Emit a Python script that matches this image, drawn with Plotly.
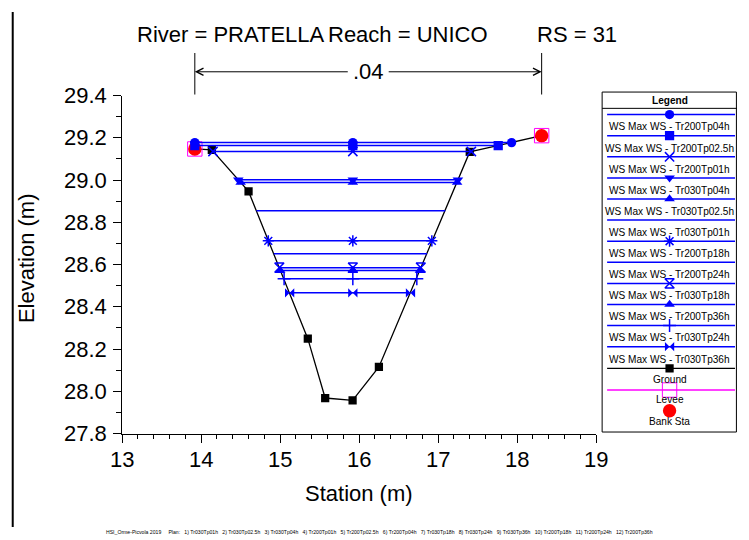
import plotly.graph_objects as go

# ---------------- data ----------------
ws_names = ["WS Max WS - Tr200Tp04h", "WS Max WS - Tr200Tp02.5h", "WS Max WS - Tr200Tp01h",
            "WS Max WS - Tr030Tp04h", "WS Max WS - Tr030Tp02.5h", "WS Max WS - Tr030Tp01h",
            "WS Max WS - Tr200Tp18h", "WS Max WS - Tr200Tp24h", "WS Max WS - Tr030Tp18h",
            "WS Max WS - Tr200Tp36h", "WS Max WS - Tr030Tp24h", "WS Max WS - Tr030Tp36h"]
ws_elev = [29.177, 29.163, 29.135, 29.001, 28.988, 28.854, 28.712, 28.651, 28.585, 28.572, 28.533, 28.466]
ws_left = [13.92, 13.92, 14.15, 14.47, 14.50, 14.70, 14.85, 14.92, 14.99, 15.00, 15.05, 15.12]
ws_mid = [15.92] * 12
ws_right = [17.93, 17.76, 17.42, 17.25, 17.24, 17.09, 16.92, 16.86, 16.78, 16.77, 16.73, 16.65]
ws_symbols = ["circle", "square", "x-thin-open", "triangle-down", "triangle-up", None,
              "asterisk-open", None, "hourglass-open", "triangle-up", "cross-thin-open", "bowtie"]

ground_x = [13.92, 14.135, 14.60, 15.35, 15.57, 15.917, 16.25, 17.40, 18.31]
ground_y = [29.147, 29.143, 28.946, 28.249, 27.968, 27.957, 28.115, 29.133, 29.21]

levee_x = [13.92, 18.31]
levee_y = [29.147, 29.21]
bank_x = [13.92, 18.31]
bank_y = [29.147, 29.21]

x_ticks = [13, 14, 15, 16, 17, 18, 19]
y_ticks = [27.8, 28.0, 28.2, 28.4, 28.6, 28.8, 29.0, 29.2, 29.4]

n_value = ".04"
title_parts = ["River = PRATELLA", "Reach = UNICO", "RS = 31"]
footer = ("HSI_Orme-Picvola 2019     Plan:   1) Tr030Tp01h   2) Tr030Tp02.5h   3) Tr030Tp04h   "
          "4) Tr200Tp01h   5) Tr200Tp02.5h   6) Tr200Tp04h   7) Tr030Tp18h   8) Tr030Tp24h   "
          "9) Tr030Tp36h   10) Tr200Tp18h   11) Tr200Tp24h   12) Tr200Tp36h")

# ---------------- layout helpers ----------------
W, H = 749, 540
# the photographed page shows up slightly shrunk and inset; positions below are
# given in picture pixels and converted to page paper coordinates
AX, BX, AY, BY = 0.972, 10.4, 0.965, 9.5
K = 1 / AX  # marker compensation
FONT = "Liberation Sans, Arial, sans-serif"
BLUE = "#0000FF"


def clamp(v):
    return min(1.0, max(0.0, v))


def px(p):
    return clamp(((p - BX) / AX) / W)


def py(q):
    return clamp(1 - ((q - BY) / AY) / H)


X0, X1, Y0, Y1 = 121, 597, 94, 436  # plot area in picture pixels
BIG = 22

fig = go.Figure()

fig.add_trace(go.Scatter(x=ground_x, y=ground_y, mode="lines+markers",
                         line=dict(color="black", width=1.3),
                         marker=dict(symbol="square", size=8 * K, color="black"),
                         showlegend=False, xaxis="x", yaxis="y"))
fig.add_trace(go.Scatter(x=levee_x, y=levee_y, mode="markers",
                         marker=dict(symbol="square-open", size=14 * K, color="#FF00FF",
                                     line=dict(width=1)),
                         showlegend=False))
fig.add_trace(go.Scatter(x=bank_x, y=bank_y, mode="markers",
                         marker=dict(symbol="circle", size=13 * K, color="#FF0000"),
                         showlegend=False))


def marker_for(sym):
    if sym is None:
        return dict(size=0, opacity=0)
    if sym.endswith("-open"):
        return dict(symbol=sym, size=9 * K, color=BLUE, line=dict(color=BLUE, width=1.5))
    return dict(symbol=sym, size=9 * K, color=BLUE, line=dict(width=0))


for i in reversed(range(len(ws_names))):
    fig.add_trace(go.Scatter(
        x=[ws_left[i], ws_mid[i], ws_right[i]], y=[ws_elev[i]] * 3,
        mode="lines+markers" if ws_symbols[i] else "lines",
        line=dict(color=BLUE, width=1.5),
        marker=marker_for(ws_symbols[i]),
        name=ws_names[i], showlegend=False))

# ---------------- custom legend (axis x2/y2 in picture pixel units) ----------------
LX0, LY0, LY1 = 603, 90.5, 434.5
LX1 = AX * W + BX          # right edge of the page in picture pixels
LCX = (LX0 + LX1) / 2
row0, rowstep = 113.3, 21.35
annotations = []
LFS = 10.1

for i, name in enumerate(ws_names):
    yl = row0 + rowstep * i
    fig.add_trace(go.Scatter(x=[LX0 + 5, LX1 - 2], y=[yl, yl], mode="lines",
                             line=dict(color=BLUE, width=1.5), showlegend=False,
                             xaxis="x2", yaxis="y2", hoverinfo="skip"))
    if ws_symbols[i]:
        fig.add_trace(go.Scatter(x=[LCX], y=[yl], mode="markers", marker=marker_for(ws_symbols[i]),
                                 showlegend=False, xaxis="x2", yaxis="y2", hoverinfo="skip"))
    annotations.append(dict(x=LCX, y=yl + 12.5, xref="x2", yref="y2", text=name, showarrow=False,
                            font=dict(family=FONT, size=LFS, color="black"),
                            xanchor="center", yanchor="middle"))

yg = 370
fig.add_trace(go.Scatter(x=[LX0 + 5, LX1 - 2], y=[yg, yg], mode="lines", line=dict(color="black", width=1.3),
                         showlegend=False, xaxis="x2", yaxis="y2", hoverinfo="skip"))
fig.add_trace(go.Scatter(x=[LCX], y=[yg], mode="markers", marker=dict(symbol="square", size=8 * K, color="black"),
                         showlegend=False, xaxis="x2", yaxis="y2", hoverinfo="skip"))
annotations.append(dict(x=LCX, y=yg + 11, xref="x2", yref="y2", text="Ground", showarrow=False,
                        font=dict(family=FONT, size=LFS, color="black"), yanchor="middle"))
yv = 392
fig.add_trace(go.Scatter(x=[LX0 + 5, LX1 - 2], y=[yv, yv], mode="lines", line=dict(color="#FF00FF", width=1.3),
                         showlegend=False, xaxis="x2", yaxis="y2", hoverinfo="skip"))
fig.add_trace(go.Scatter(x=[LCX], y=[yv], mode="markers",
                         marker=dict(symbol="square-open", size=14 * K, color="#FF00FF", line=dict(width=1)),
                         showlegend=False, xaxis="x2", yaxis="y2", hoverinfo="skip"))
annotations.append(dict(x=LCX, y=yv + 10, xref="x2", yref="y2", text="Levee", showarrow=False,
                        font=dict(family=FONT, size=LFS, color="black"), yanchor="middle"))
yb = 413
fig.add_trace(go.Scatter(x=[LCX], y=[yb], mode="markers", marker=dict(symbol="circle", size=13 * K, color="#FF0000"),
                         showlegend=False, xaxis="x2", yaxis="y2", hoverinfo="skip"))
annotations.append(dict(x=LCX, y=yb + 11, xref="x2", yref="y2", text="Bank Sta", showarrow=False,
                        font=dict(family=FONT, size=LFS, color="black"), yanchor="middle"))
annotations.append(dict(x=LCX, y=99, xref="x2", yref="y2", text="<b>Legend</b>", showarrow=False,
                        font=dict(family=FONT, size=LFS, color="black"), yanchor="middle"))

shapes = [
    dict(type="rect", xref="paper", yref="paper", x0=px(LX0), x1=px(LX1) - 0.0008, y0=py(LY1), y1=py(LY0),
         line=dict(color="black", width=1)),
    dict(type="line", xref="paper", yref="paper", x0=px(LX0), x1=px(LX1), y0=py(107), y1=py(107),
         line=dict(color="black", width=1)),
    dict(type="line", xref="paper", yref="paper", x0=0.001, x1=0.001, y0=0, y1=1,
         line=dict(color="black", width=2)),
]

title_x = [134, 326, 536]
for t, xx in zip(title_parts, title_x):
    annotations.append(dict(x=px(xx), y=py(32), xref="paper", yref="paper", text=t, showarrow=False,
                            xanchor="left", yanchor="middle", font=dict(family=FONT, size=BIG, color="black")))

arrow_y = 70
for bx in bank_x:
    shapes.append(dict(type="line", xref="x", yref="paper", x0=bx, x1=bx, y0=py(51), y1=py(93),
                       line=dict(color="black", width=1)))
mid_n = (bank_x[0] + bank_x[1]) / 2
annotations.append(dict(x=mid_n, y=py(arrow_y), xref="x", yref="paper", text=n_value, showarrow=False,
                        font=dict(family=FONT, size=BIG, color="black"), xanchor="center", yanchor="middle"))
gap = 0.24
annotations.append(dict(x=bank_x[0], y=py(arrow_y), xref="x", yref="paper", axref="x", ayref="pixel",
                        ax=mid_n - gap, ay=0, text="", showarrow=True, arrowhead=5, arrowsize=1.4,
                        arrowwidth=1, arrowcolor="black", standoff=0))
annotations.append(dict(x=bank_x[1], y=py(arrow_y), xref="x", yref="paper", axref="x", ayref="pixel",
                        ax=mid_n + gap, ay=0, text="", showarrow=True, arrowhead=5, arrowsize=1.4,
                        arrowwidth=1, arrowcolor="black", standoff=0))

annotations.append(dict(x=px(359), y=py(497), xref="paper", yref="paper", text="Station (m)", showarrow=False,
                        xanchor="center", yanchor="middle", font=dict(family=FONT, size=BIG, color="black")))
annotations.append(dict(x=px(25), y=py(259), xref="paper", yref="paper", text="Elevation (m)", showarrow=False,
                        xanchor="center", yanchor="middle", textangle=-90,
                        font=dict(family=FONT, size=BIG, color="black")))
annotations.append(dict(x=px(103), y=py(530), xref="paper", yref="paper", text=footer.replace(" ", "\u00a0"),
                        showarrow=False, xanchor="left", yanchor="middle", yshift=-6,
                        font=dict(family=FONT, size=5 * K, color="black")))

fig.update_layout(
    width=W, height=H, margin=dict(l=0, r=0, t=0, b=0),
    paper_bgcolor="white", plot_bgcolor="white", showlegend=False,
    xaxis=dict(domain=[px(X0), px(X1)], range=[13, 19], tickvals=x_ticks, ticks="outside", ticklen=8,
               tickcolor="black", showline=True, linecolor="black", linewidth=1, showgrid=False,
               zeroline=False, tickfont=dict(family=FONT, size=BIG, color="black"), ticklabelstandoff=-2,
               minor=dict(dtick=0.2, ticks="outside", ticklen=4, tickcolor="black", showgrid=False)),
    yaxis=dict(domain=[py(Y1), py(Y0)], range=[27.8, 29.4], tickvals=y_ticks, tickformat=".1f",
               ticks="outside", ticklen=8, tickcolor="black", showline=True, linecolor="black",
               linewidth=1, showgrid=False, zeroline=False, ticklabelstandoff=2,
               tickfont=dict(family=FONT, size=BIG, color="black"),
               minor=dict(dtick=0.1, ticks="outside", ticklen=5, tickcolor="black", showgrid=False)),
    xaxis2=dict(domain=[px(LX0), 1], range=[LX0, LX1], visible=False, anchor="y2"),
    yaxis2=dict(domain=[py(LY1), py(LY0)], range=[LY1, LY0], visible=False, anchor="x2"),
    annotations=annotations, shapes=shapes,
)

fig.write_html("out.html", config={"displayModeBar": False},
               post_script="document.body.style.margin='0';document.body.style.padding='0';"
                           "document.body.style.overflow='hidden';"
                           "document.documentElement.style.overflow='hidden';")
